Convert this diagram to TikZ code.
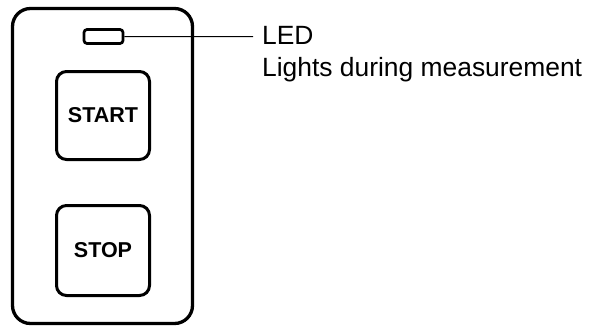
\documentclass[tikz,border=0pt]{standalone}
\usepackage{fontspec}
\setmainfont{Liberation Sans}
\begin{document}
\begin{tikzpicture}[x=1pt,y=1pt,
  panelbox/.style={draw=black,line width=3.3pt,rounded corners=18pt,minimum width=180pt,minimum height=315pt,inner sep=0pt},
  ledbox/.style={draw=black,line width=2.7pt,rounded corners=3pt,minimum width=39pt,minimum height=14pt,inner sep=0pt},
  keybox/.style={draw=black,line width=3pt,rounded corners=10pt,minimum width=93pt,inner sep=0pt,font=\fontsize{21.5}{24}\selectfont\bfseries},
  labeltext/.style={inner sep=0pt,anchor=base west,font=\fontsize{26.4}{32}\selectfont},
  leader/.style={draw=black,line width=1pt}]
\useasboundingbox (0,0) rectangle (595,-327);
\node[panelbox] (panel) at (102.5,-166) {};
\node[ledbox] (led) at (103.5,-36.5) {};
\node[keybox,minimum height=88pt] (start) at (103,-115.5) {\raisebox{-1pt}{START}};
\node[keybox,minimum height=90pt] (stop) at (103,-250.5) {\raisebox{-2pt}{STOP}};
\node[labeltext] (ledtitle) at (262,-44) {LED};
\node[labeltext] (leddesc) at (262,-76) {Lights during measurement};
\coordinate (leadend) at (253,-36.6);
\draw[leader] (led.east) -- (leadend);
\end{tikzpicture}
\end{document}
